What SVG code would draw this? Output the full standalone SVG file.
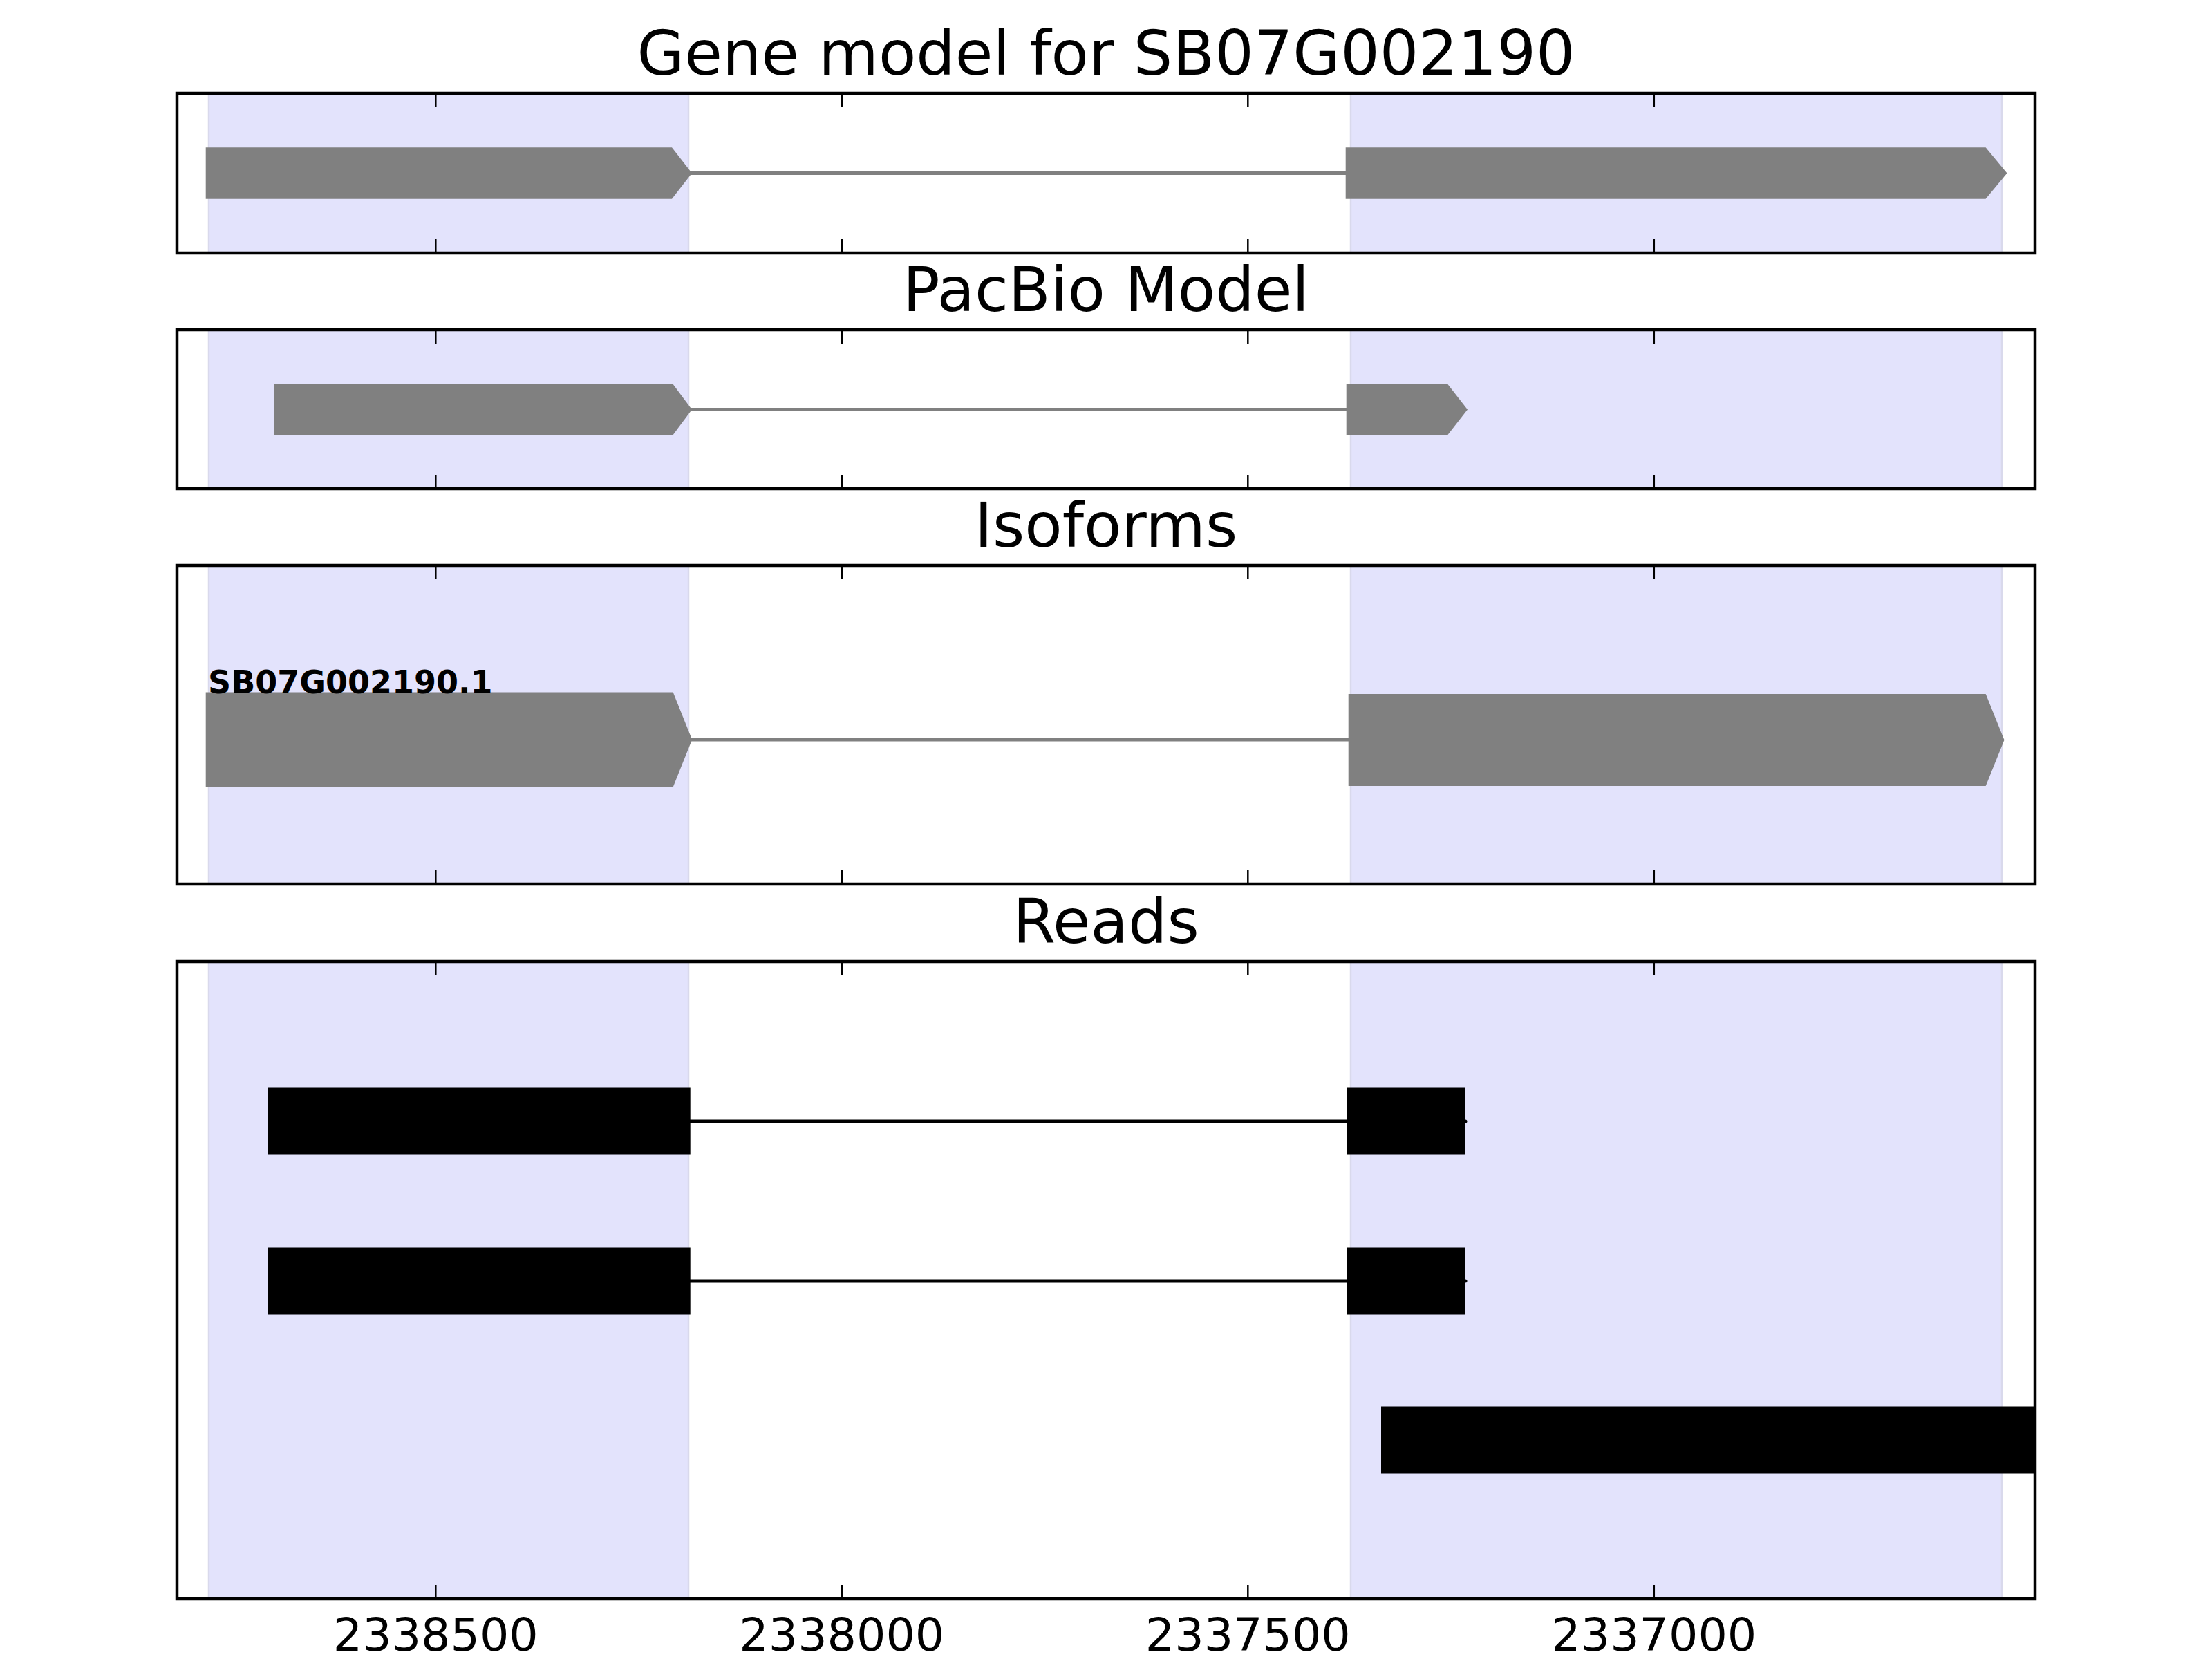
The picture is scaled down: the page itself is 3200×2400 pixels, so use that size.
<svg xmlns="http://www.w3.org/2000/svg" width="3200" height="2400" viewBox="0 0 3200 2400">
<style>
.title{font-family:"DejaVu Sans",Verdana,sans-serif;font-size:88.9px;fill:#000;text-anchor:middle}
.tl{font-family:"DejaVu Sans",Verdana,sans-serif;font-size:66.7px;fill:#000;text-anchor:middle}
.lbl{font-family:"DejaVu Sans",Verdana,sans-serif;font-size:46px;font-weight:bold;fill:#000}
.band{fill:#e3e3fc;stroke:#d9d9ec;stroke-width:2.5}
.frame{fill:none;stroke:#000;stroke-width:4.5}
.tick{stroke:#000;stroke-width:2.5}
.exon{fill:#808080}
.read{fill:#000}
.intron{stroke:#808080;stroke-width:5}
.rintron{stroke:#000;stroke-width:5}
</style>
<rect width="3200" height="2400" fill="#fff"/>
<defs>
<g id="ticksTop">
<line class="tick" x1="630.3" y1="0" x2="630.3" y2="20"/>
<line class="tick" x1="1217.8" y1="0" x2="1217.8" y2="20"/>
<line class="tick" x1="1805.3" y1="0" x2="1805.3" y2="20"/>
<line class="tick" x1="2392.8" y1="0" x2="2392.8" y2="20"/>
</g>
<g id="ticksBot">
<line class="tick" x1="630.3" y1="0" x2="630.3" y2="-20"/>
<line class="tick" x1="1217.8" y1="0" x2="1217.8" y2="-20"/>
<line class="tick" x1="1805.3" y1="0" x2="1805.3" y2="-20"/>
<line class="tick" x1="2392.8" y1="0" x2="2392.8" y2="-20"/>
</g>
<clipPath id="c4"><rect x="256" y="1391" width="2688" height="922"/></clipPath>
</defs>

<!-- Panel 1 -->
<g id="panel-gene-model">
<text class="title" x="1600" y="108">Gene model for SB07G002190</text>
<rect class="band" x="302" y="135" width="694" height="231"/>
<rect class="band" x="1954" y="135" width="942" height="231"/>
</g>
<!-- Panel 2 -->
<g id="panel-pacbio">
<text class="title" x="1600" y="450">PacBio Model</text>
<rect class="band" x="302" y="477" width="694" height="230"/>
<rect class="band" x="1954" y="477" width="942" height="230"/>
</g>
<!-- Panel 3 -->
<g id="panel-isoforms">
<text class="title" x="1600" y="791">Isoforms</text>
<rect class="band" x="302" y="818" width="694" height="461"/>
<rect class="band" x="1954" y="818" width="942" height="461"/>
</g>
<!-- Panel 4 -->
<g id="panel-reads">
<text class="title" x="1600" y="1364">Reads</text>
<rect class="band" x="302" y="1391" width="694" height="922"/>
<rect class="band" x="1954" y="1391" width="942" height="922"/>
</g>

<g id="connectors">
<line class="intron" x1="995" y1="250.5" x2="1950" y2="250.5"/>
<line class="intron" x1="995" y1="592.5" x2="1950" y2="592.5"/>
<line class="intron" x1="995" y1="1070" x2="1953" y2="1070"/>
<line class="rintron" x1="995" y1="1622" x2="2120" y2="1622" stroke-linecap="round"/>
<line class="rintron" x1="995" y1="1853" x2="2120" y2="1853" stroke-linecap="round"/>
</g>

<g id="gene-exon-1"><polygon class="exon" points="297.7,213.3 972,213.3 1001,250.5 972,287.7 297.7,287.7"/></g>
<g id="gene-exon-2"><polygon class="exon" points="1946.7,213.3 2872.6,213.3 2903.5,250.5 2872.6,287.7 1946.7,287.7"/></g>

<g id="pacbio-exon-1"><polygon class="exon" points="397,555 973,555 1001,592.5 973,630 397,630"/></g>
<g id="pacbio-exon-2"><polygon class="exon" points="1947.7,555 2093.7,555 2123,592.5 2093.7,630 1947.7,630"/></g>

<g id="isoform-exon-1"><polygon class="exon" points="297.7,1001.5 973.7,1001.5 1001.2,1070 973.7,1138.5 297.7,1138.5"/></g>
<g id="isoform-exon-2"><polygon class="exon" points="1950.7,1004 2872.7,1004 2899.5,1070.5 2872.7,1137 1950.7,1137"/></g>
<g id="isoform-label"><text class="lbl" x="301" y="1003">SB07G002190.1</text></g>

<g id="read-1">
<rect class="read" x="387" y="1573.5" width="611.7" height="97"/>
<rect class="read" x="1949" y="1573.5" width="170" height="97"/>
</g>
<g id="read-2">
<rect class="read" x="387" y="1804.5" width="611.7" height="97"/>
<rect class="read" x="1949" y="1804.5" width="170" height="97"/>
</g>
<g id="read-3" clip-path="url(#c4)">
<rect class="read" x="1998" y="2034.5" width="960" height="97"/>
</g>

<g id="axes">
<rect class="frame" x="256" y="135" width="2688" height="231"/>
<use href="#ticksTop" y="135"/><use href="#ticksBot" y="366"/>
<rect class="frame" x="256" y="477" width="2688" height="230"/>
<use href="#ticksTop" y="477"/><use href="#ticksBot" y="707"/>
<rect class="frame" x="256" y="818" width="2688" height="461"/>
<use href="#ticksTop" y="818"/><use href="#ticksBot" y="1279"/>
<rect class="frame" x="256" y="1391" width="2688" height="922"/>
<use href="#ticksTop" y="1391"/><use href="#ticksBot" y="2313"/>
<text class="tl" x="630.3" y="2388">2338500</text>
<text class="tl" x="1217.8" y="2388">2338000</text>
<text class="tl" x="1805.3" y="2388">2337500</text>
<text class="tl" x="2392.8" y="2388">2337000</text>
</g>
</svg>
